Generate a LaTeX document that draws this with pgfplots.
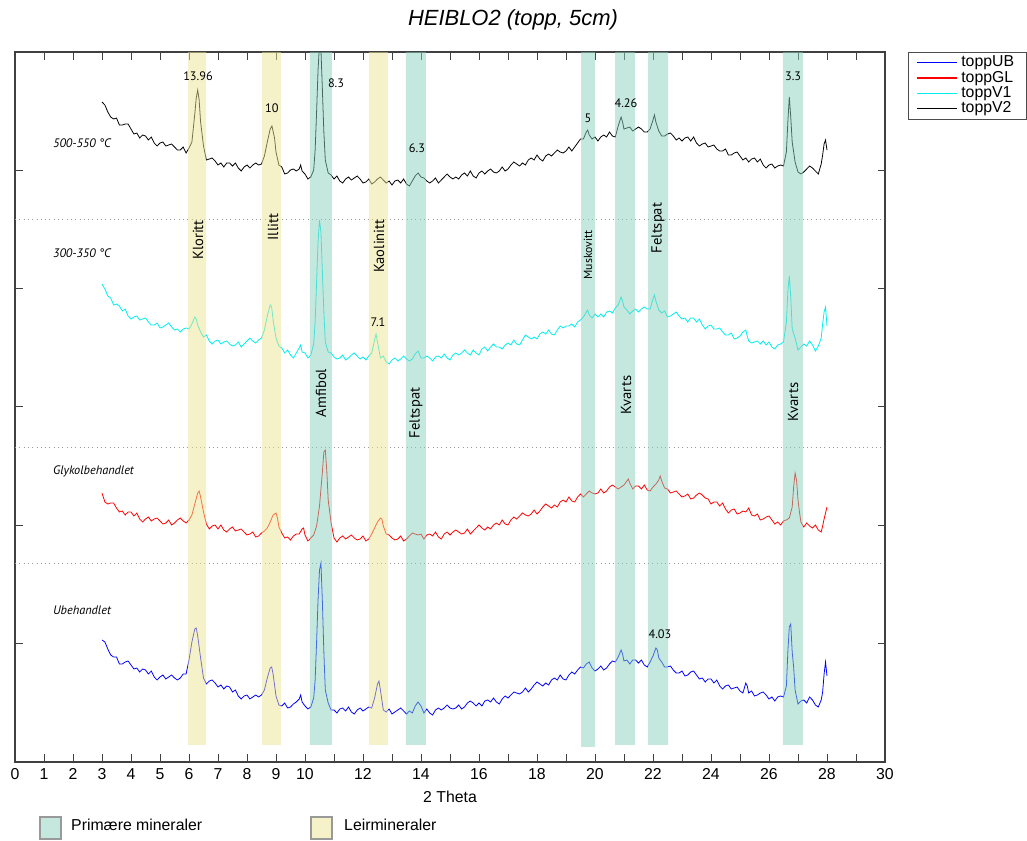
\documentclass[border=0pt]{standalone}
\usepackage{fontspec}
\setmainfont{Liberation Sans}
\newfontfamily\ann{PT Sans}
\usepackage{pgfplots}
\pgfplotsset{compat=1.18}

\definecolor{cyn}{RGB}{0,238,238}
\definecolor{grnband}{RGB}{137,209,189}
\definecolor{yelband}{RGB}{235,227,145}
\definecolor{grnpatch}{RGB}{196,232,222}
\definecolor{yelpatch}{RGB}{245,241,200}

\begin{document}
\begin{tikzpicture}
% one y unit = one pixel of the reference; the traces are stacked with offsets
\begin{axis}[
  at={(0.3cm,1.58cm)}, anchor=south west,
  width=17.4cm, height=14.2cm, scale only axis,
  xmin=0, xmax=30, ymin=0, ymax=710,
  xtick={0,...,30},
  xticklabels={0,1,2,3,4,5,6,7,8,9,10,{},12,{},14,{},16,{},18,{},20,{},22,{},24,{},26,{},28,{},30},
  ytick={119,237,356,474,592}, yticklabels={},
  tick align=inside, major tick length=0.15cm,
  tick style={black!75, line width=0.5pt},
  axis line style={black!75, line width=0.6pt},
  tick label style={font=\fontsize{9}{10}\selectfont},
  /pgf/number format/assume math mode=true,
  xlabel={2 Theta},
  xlabel style={font=\fontsize{9}{10}\selectfont},
  legend style={at={(1.026,1)}, anchor=north west, draw=black!70,
    font=\fontsize{9}{9}\selectfont, inner xsep=5pt, inner ysep=0pt, row sep=-3pt,
    cells={anchor=west}},
  legend image code/.code={\draw[#1, line width=0.6pt] (0cm,0cm) -- (0.8cm,0cm);},
  every axis plot/.append style={line width=0.45pt},
]

% toppUB
\addplot[blue] coordinates {
(3.0,122)(3.1,120)(3.2,113)(3.3,107)(3.4,105)(3.5,105)(3.6,98)(3.7,98)(3.8,100)(3.9,101)
(4.0,97)(4.1,93)(4.2,94)(4.3,90)(4.4,93)(4.5,92)(4.6,88)(4.7,91)(4.8,85)(4.9,82)
(5.0,85)(5.1,87)(5.2,83)(5.3,85)(5.4,87)(5.5,84)(5.6,82)(5.7,84)(5.8,88)(5.9,88)
(6.0,102)(6.1,120)(6.2,133)(6.25,134)(6.3,126)(6.4,104)(6.5,84)(6.6,78)(6.7,81)(6.8,82)(6.9,79)
(7.0,75)(7.1,77)(7.2,73)(7.3,76)(7.4,75)(7.5,70)(7.6,72)(7.7,66)(7.8,63)(7.9,66)
(8.0,67)(8.1,63)(8.2,65)(8.3,67)(8.4,65)(8.5,67)(8.6,72)(8.7,84)(8.8,94)(8.85,95)(8.9,88)
(9.0,66)(9.1,57)(9.2,56)(9.3,59)(9.4,54)(9.5,55)(9.6,58)(9.7,60)(9.8,63)(9.85,67)(9.9,60)
(10.0,56)(10.1,53)(10.2,55)(10.3,64)(10.35,82)(10.4,120)(10.45,162)(10.5,192)(10.55,199)(10.6,160)(10.65,110)(10.7,72)(10.8,59)(10.9,52)
(11.0,52)(11.1,49)(11.2,53)(11.3,54)(11.4,51)(11.5,55)(11.6,50)(11.7,48)(11.8,52)(11.9,54)
(12.0,51)(12.1,53)(12.2,55)(12.3,54)(12.4,64)(12.5,78)(12.55,81)(12.6,72)(12.7,52)(12.8,50)(12.9,53)
(13.0,48)(13.1,50)(13.2,52)(13.3,54)(13.4,51)(13.5,48)(13.6,51)(13.7,49)(13.8,56)(13.9,60)
(14.0,56)(14.1,49)(14.2,53)(14.3,49)(14.4,47)(14.5,52)(14.6,54)(14.7,52)(14.8,54)(14.9,57)
(15.0,54)(15.1,53)(15.2,54)(15.3,57)(15.4,53)(15.5,55)(15.6,59)(15.7,61)(15.8,59)(15.9,56)
(16.0,59)(16.1,56)(16.2,61)(16.3,62)(16.4,60)(16.5,64)(16.6,60)(16.7,58)(16.8,63)(16.9,66)
(17.0,64)(17.1,67)(17.2,70)(17.3,69)(17.4,68)(17.5,70)(17.6,74)(17.7,70)(17.8,73)(17.9,77)
(18.0,80)(18.1,78)(18.2,76)(18.3,79)(18.4,77)(18.5,82)(18.6,84)(18.7,82)(18.8,87)(18.9,83)
(19.0,82)(19.1,87)(19.2,90)(19.3,88)(19.4,92)(19.5,95)(19.6,94)(19.7,98)(19.8,100)(19.9,94)
(20.0,91)(20.1,93)(20.2,96)(20.3,92)(20.4,94)(20.5,98)(20.6,101)(20.7,100)(20.8,105)(20.9,112)(20.95,108)
(21.0,101)(21.1,102)(21.2,98)(21.3,102)(21.4,102)(21.5,99)(21.6,102)(21.7,97)(21.8,95)(21.9,100)
(22.0,106)(22.1,114)(22.15,112)(22.2,104)(22.3,100)(22.4,95)(22.5,95)(22.6,96)(22.7,92)(22.8,89)(22.9,89)
(23.0,91)(23.1,86)(23.2,87)(23.3,90)(23.4,91)(23.5,87)(23.6,83)(23.7,84)(23.8,80)(23.9,83)
(24.0,83)(24.1,79)(24.2,82)(24.3,76)(24.4,73)(24.5,76)(24.6,77)(24.7,73)(24.8,74)(24.9,75)
(25.0,71)(25.1,69)(25.2,79)(25.25,76)(25.3,69)(25.4,71)(25.5,66)(25.6,67)(25.7,69)(25.8,70)(25.9,67)
(26.0,63)(26.1,65)(26.2,61)(26.3,65)(26.4,66)(26.5,65)(26.6,76)(26.65,110)(26.7,135)(26.75,138)(26.8,110)(26.85,95)(26.9,72)
(27.0,58)(27.1,61)(27.2,62)(27.3,59)(27.4,65)(27.5,62)(27.6,57)(27.7,55)(27.8,62)(27.85,70)(27.9,88)(27.95,100)(28.0,86)
};
\addlegendentry{toppUB}

% toppGL
\addplot[red] coordinates {
(3.0,269)(3.1,260)(3.2,258)(3.3,259)(3.4,259)(3.5,254)(3.6,250)(3.7,251)(3.8,247)(3.9,250)
(4.0,250)(4.1,246)(4.2,249)(4.3,243)(4.4,240)(4.5,243)(4.6,245)(4.7,241)(4.8,243)(4.9,244)
(5.0,241)(5.1,238)(5.2,239)(5.3,242)(5.4,237)(5.5,239)(5.6,242)(5.7,244)(5.8,241)(5.9,239)
(6.0,242)(6.1,247)(6.2,258)(6.3,269)(6.35,271)(6.4,265)(6.5,250)(6.6,238)(6.7,233)(6.8,236)(6.9,237)
(7.0,233)(7.1,237)(7.2,232)(7.3,230)(7.4,233)(7.5,235)(7.6,231)(7.7,232)(7.8,233)(7.9,230)
(8.0,227)(8.1,228)(8.2,230)(8.3,225)(8.4,226)(8.5,229)(8.6,231)(8.7,234)(8.8,240)(8.9,247)
(9.0,249)(9.05,244)(9.1,235)(9.2,229)(9.3,224)(9.4,225)(9.5,222)(9.6,226)(9.7,228)(9.8,228)(9.9,233)(9.95,234)
(10.0,227)(10.1,221)(10.2,224)(10.3,227)(10.4,236)(10.5,256)(10.6,290)(10.65,310)(10.7,312)(10.75,292)(10.8,262)(10.9,239)
(11.0,224)(11.1,220)(11.2,224)(11.3,226)(11.4,223)(11.5,225)(11.6,227)(11.7,224)(11.8,222)(11.9,223)
(12.0,226)(12.1,221)(12.2,223)(12.3,228)(12.4,234)(12.5,240)(12.6,244)(12.65,243)(12.7,236)(12.8,228)(12.9,227)
(13.0,224)(13.1,222)(13.2,223)(13.3,226)(13.4,221)(13.5,223)(13.6,226)(13.7,229)(13.8,228)(13.9,227)
(14.0,228)(14.1,223)(14.2,227)(14.3,228)(14.4,226)(14.5,230)(14.6,225)(14.7,223)(14.8,228)(14.9,230)
(15.0,227)(15.1,230)(15.2,232)(15.3,230)(15.4,228)(15.5,229)(15.6,233)(15.7,228)(15.8,231)(15.9,234)
(16.0,237)(16.1,234)(16.2,232)(16.3,235)(16.4,233)(16.5,237)(16.6,239)(16.7,237)(16.8,242)(16.9,238)
(17.0,237)(17.1,242)(17.2,245)(17.3,243)(17.4,246)(17.5,249)(17.6,247)(17.7,246)(17.8,248)(17.9,252)
(18.0,248)(18.1,251)(18.2,255)(18.3,258)(18.4,256)(18.5,254)(18.6,257)(18.7,255)(18.8,260)(18.9,262)
(19.0,260)(19.1,265)(19.2,261)(19.3,260)(19.4,265)(19.5,268)(19.6,265)(19.7,268)(19.8,271)(19.9,269)
(20.0,268)(20.1,269)(20.2,273)(20.3,269)(20.4,271)(20.5,275)(20.6,277)(20.7,275)(20.8,273)(20.9,275)
(21.0,277)(21.1,281)(21.15,283)(21.2,279)(21.3,273)(21.4,276)(21.5,276)(21.6,273)(21.7,277)(21.8,272)(21.9,271)
(22.0,275)(22.1,278)(22.2,282)(22.25,286)(22.3,281)(22.4,274)(22.5,273)(22.6,269)(22.7,270)(22.8,271)(22.9,268)
(23.0,265)(23.1,266)(23.2,268)(23.3,263)(23.4,264)(23.5,267)(23.6,269)(23.7,267)(23.8,264)(23.9,263)
(24.0,258)(24.1,260)(24.2,260)(24.3,256)(24.4,259)(24.5,253)(24.6,249)(24.7,252)(24.8,253)(24.9,248)
(25.0,249)(25.1,251)(25.2,250)(25.3,254)(25.4,247)(25.5,246)(25.6,248)(25.7,242)(25.8,243)(25.9,245)
(26.0,246)(26.1,242)(26.2,238)(26.3,240)(26.4,237)(26.5,241)(26.6,242)(26.7,244)(26.8,255)(26.85,275)(26.9,289)(26.95,282)
(27.0,262)(27.05,250)(27.1,240)(27.2,235)(27.3,239)(27.4,236)(27.5,234)(27.6,237)(27.7,232)(27.8,230)(27.85,236)(27.9,243)(27.95,249)(28.0,255)
};
\addlegendentry{toppGL}

% toppV1
\addplot[cyn] coordinates {
(3.0,478)(3.1,473)(3.2,466)(3.3,464)(3.4,457)(3.5,458)(3.6,456)(3.7,451)(3.8,453)(3.9,446)
(4.0,443)(4.1,445)(4.2,446)(4.3,442)(4.4,443)(4.5,444)(4.6,440)(4.7,437)(4.8,437)(4.9,439)
(5.0,434)(5.1,435)(5.2,437)(5.3,439)(5.4,435)(5.5,432)(5.6,433)(5.7,430)(5.8,433)(5.9,434)
(6.0,433)(6.1,438)(6.2,445)(6.25,443)(6.3,437)(6.4,430)(6.5,425)(6.6,427)(6.7,421)(6.8,418)(6.9,421)
(7.0,422)(7.1,418)(7.2,420)(7.3,421)(7.4,418)(7.5,416)(7.6,417)(7.7,420)(7.8,415)(7.9,418)
(8.0,421)(8.1,424)(8.2,421)(8.3,419)(8.4,422)(8.5,424)(8.6,432)(8.7,446)(8.8,457)(8.85,455)(8.9,442)
(9.0,424)(9.1,416)(9.2,414)(9.3,409)(9.4,412)(9.5,407)(9.6,404)(9.7,409)(9.8,414)(9.85,417)(9.9,410)
(10.0,409)(10.1,404)(10.2,407)(10.3,418)(10.35,440)(10.4,480)(10.45,520)(10.5,542)(10.55,530)(10.6,490)(10.65,450)(10.7,420)(10.8,410)(10.9,409)
(11.0,405)(11.1,403)(11.2,404)(11.3,407)(11.4,402)(11.5,404)(11.6,407)(11.7,409)(11.8,406)(11.9,403)
(12.0,405)(12.1,402)(12.2,406)(12.3,409)(12.4,422)(12.45,428)(12.5,420)(12.6,404)(12.7,406)(12.8,400)(12.9,398)
(13.0,402)(13.1,404)(13.2,401)(13.3,403)(13.4,406)(13.5,403)(13.6,401)(13.7,403)(13.8,408)(13.9,411)
(14.0,404)(14.1,404)(14.2,406)(14.3,404)(14.4,401)(14.5,405)(14.6,406)(14.7,404)(14.8,408)(14.9,404)
(15.0,402)(15.1,407)(15.2,409)(15.3,407)(15.4,409)(15.5,412)(15.6,409)(15.7,407)(15.8,412)(15.9,409)
(16.0,407)(16.1,413)(16.2,415)(16.3,411)(16.4,415)(16.5,418)(16.6,415)(16.7,415)(16.8,413)(16.9,417)
(17.0,419)(17.1,417)(17.2,422)(17.3,418)(17.4,417)(17.5,422)(17.6,427)(17.7,425)(17.8,423)(17.9,425)
(18.0,423)(18.1,428)(18.2,430)(18.3,428)(18.4,432)(18.5,428)(18.6,427)(18.7,432)(18.8,436)(18.9,434)
(19.0,436)(19.1,436)(19.2,438)(19.3,435)(19.4,440)(19.5,442)(19.6,445)(19.7,450)(19.75,452)(19.8,447)(19.9,444)
(20.0,448)(20.1,445)(20.2,448)(20.3,445)(20.4,450)(20.5,451)(20.6,449)(20.7,454)(20.8,457)(20.9,465)(20.95,461)
(21.0,455)(21.1,452)(21.2,448)(21.3,451)(21.4,453)(21.5,450)(21.6,453)(21.7,455)(21.8,453)(21.9,453)
(22.0,463)(22.05,467)(22.1,461)(22.2,452)(22.3,449)(22.4,451)(22.5,445)(22.6,446)(22.7,448)(22.8,450)(22.9,446)
(23.0,443)(23.1,444)(23.2,440)(23.3,444)(23.4,444)(23.5,440)(23.6,443)(23.7,437)(23.8,433)(23.9,436)
(24.0,437)(24.1,433)(24.2,433)(24.3,434)(24.4,430)(24.5,427)(24.6,427)(24.7,429)(24.8,423)(24.9,424)
(25.0,426)(25.1,430)(25.2,432)(25.25,426)(25.3,421)(25.4,419)(25.5,420)(25.6,421)(25.7,418)(25.8,421)(25.9,417)
(26.0,420)(26.1,415)(26.2,413)(26.3,417)(26.4,418)(26.5,420)(26.6,440)(26.65,470)(26.7,486)(26.75,465)(26.8,433)(26.9,424)
(27.0,412)(27.1,415)(27.2,418)(27.3,416)(27.4,421)(27.5,417)(27.6,411)(27.7,416)(27.8,424)(27.85,438)(27.9,450)(27.95,455)(28.0,436)
};
\addlegendentry{toppV1}

% toppV2
\addplot[black] coordinates {
(3.0,660)(3.1,657)(3.2,650)(3.3,645)(3.4,643)(3.5,644)(3.6,637)(3.7,637)(3.8,638)(3.9,638)
(4.0,633)(4.1,628)(4.2,629)(4.3,624)(4.4,627)(4.5,626)(4.6,622)(4.7,625)(4.8,619)(4.9,616)
(5.0,619)(5.1,620)(5.2,616)(5.3,617)(5.4,618)(5.5,615)(5.6,612)(5.7,612)(5.8,615)(5.9,609)
(6.0,614)(6.1,620)(6.2,648)(6.25,664)(6.3,672)(6.35,662)(6.4,640)(6.5,616)(6.6,602)(6.7,603)(6.8,604)(6.9,601)
(7.0,597)(7.1,599)(7.2,595)(7.3,599)(7.4,599)(7.5,596)(7.6,599)(7.7,594)(7.8,591)(7.9,595)
(8.0,597)(8.1,594)(8.2,597)(8.3,599)(8.4,597)(8.5,598)(8.6,606)(8.7,620)(8.8,633)(8.86,636)(8.95,624)
(9.0,610)(9.1,597)(9.2,595)(9.3,588)(9.4,589)(9.5,592)(9.6,593)(9.7,591)(9.8,593)(9.85,597)(9.9,591)
(10.0,588)(10.1,583)(10.2,585)(10.3,592)(10.35,612)(10.4,650)(10.45,692)(10.5,718)(10.55,712)(10.6,672)(10.65,630)(10.7,602)(10.8,589)(10.9,587)
(11.0,583)(11.1,586)(11.2,581)(11.3,579)(11.4,583)(11.5,585)(11.6,582)(11.7,584)(11.8,586)(11.9,583)
(12.0,579)(12.1,580)(12.2,583)(12.3,578)(12.4,580)(12.5,583)(12.6,585)(12.7,582)(12.8,579)(12.9,581)
(13.0,577)(13.1,581)(13.2,582)(13.3,579)(13.4,583)(13.5,578)(13.6,576)(13.7,581)(13.8,586)(13.9,589)
(14.0,585)(14.1,584)(14.2,581)(14.3,579)(14.4,581)(14.5,584)(14.6,579)(14.7,582)(14.8,585)(14.9,588)
(15.0,585)(15.1,583)(15.2,585)(15.3,583)(15.4,587)(15.5,589)(15.6,586)(15.7,591)(15.8,586)(15.9,584)
(16.0,589)(16.1,591)(16.2,588)(16.3,591)(16.4,593)(16.5,590)(16.6,589)(16.7,591)(16.8,595)(16.9,591)
(17.0,593)(17.1,597)(17.2,600)(17.3,598)(17.4,596)(17.5,599)(17.6,597)(17.7,602)(17.8,604)(17.9,602)
(18.0,607)(18.1,603)(18.2,601)(18.3,606)(18.4,608)(18.5,606)(18.6,609)(18.7,612)(18.8,610)(18.9,609)
(19.0,611)(19.1,615)(19.2,611)(19.3,615)(19.4,619)(19.5,623)(19.6,623)(19.7,630)(19.75,632)(19.8,627)(19.9,623)
(20.0,625)(20.1,621)(20.2,625)(20.3,627)(20.4,625)(20.5,630)(20.6,626)(20.7,625)(20.8,636)(20.9,645)(20.95,640)
(21.0,633)(21.1,634)(21.2,635)(21.3,631)(21.4,633)(21.5,635)(21.6,633)(21.7,630)(21.8,630)(21.9,633)
(22.0,642)(22.05,647)(22.1,640)(22.2,631)(22.3,626)(22.4,626)(22.5,628)(22.6,629)(22.7,626)(22.8,622)(22.9,624)
(23.0,621)(23.1,624)(23.2,625)(23.3,621)(23.4,625)(23.5,619)(23.6,616)(23.7,618)(23.8,619)(23.9,615)
(24.0,616)(24.1,617)(24.2,613)(24.3,611)(24.4,611)(24.5,613)(24.6,607)(24.7,607)(24.8,609)(24.9,610)
(25.0,606)(25.1,602)(25.2,604)(25.3,600)(25.4,603)(25.5,604)(25.6,600)(25.7,603)(25.8,597)(25.9,594)
(26.0,597)(26.1,598)(26.2,594)(26.3,596)(26.4,597)(26.5,596)(26.6,610)(26.65,640)(26.7,665)(26.75,645)(26.8,620)(26.9,600)
(27.0,590)(27.1,588)(27.2,590)(27.3,593)(27.4,596)(27.5,594)(27.6,591)(27.7,588)(27.8,598)(27.85,607)(27.9,618)(27.95,622)(28.0,612)
};
\addlegendentry{toppV2}

% separators between the four samples
\addplot[forget plot, black!40, dotted] coordinates {(0,543)(30,543)};
\addplot[forget plot, black!40, dotted] coordinates {(0,315)(30,315)};
\addplot[forget plot, black!40, dotted] coordinates {(0,199)(30,199)};

% mineral bands (clay = yellow, primary = green), laid over the traces
\addplot[forget plot, draw=none, fill=yelband, fill opacity=0.5] coordinates {(5.97,17)(6.59,17)(6.59,710)(5.97,710)(5.97,17)};
\addplot[forget plot, draw=none, fill=yelband, fill opacity=0.5] coordinates {(8.52,17)(9.17,17)(9.17,710)(8.52,710)(8.52,17)};
\addplot[forget plot, draw=none, fill=grnband, fill opacity=0.5] coordinates {(10.17,17)(10.93,17)(10.93,710)(10.17,710)(10.17,17)};
\addplot[forget plot, draw=none, fill=yelband, fill opacity=0.5] coordinates {(12.2,17)(12.86,17)(12.86,710)(12.2,710)(12.2,17)};
\addplot[forget plot, draw=none, fill=grnband, fill opacity=0.5] coordinates {(13.48,17)(14.17,17)(14.17,710)(13.48,710)(13.48,17)};
\addplot[forget plot, draw=none, fill=grnband, fill opacity=0.5] coordinates {(19.52,15)(20.0,15)(20.0,710)(19.52,710)(19.52,15)};
\addplot[forget plot, draw=none, fill=grnband, fill opacity=0.5] coordinates {(20.69,17)(21.38,17)(21.38,710)(20.69,710)(20.69,17)};
\addplot[forget plot, draw=none, fill=grnband, fill opacity=0.5] coordinates {(21.83,17)(22.52,17)(22.52,710)(21.83,710)(21.83,17)};
\addplot[forget plot, draw=none, fill=grnband, fill opacity=0.5] coordinates {(26.48,17)(27.17,17)(27.17,710)(26.48,710)(26.48,17)};

% sample labels
\begin{scope}[every node/.style={anchor=west, font=\ann\itshape\fontsize{7}{8}\selectfont}]
\node at (axis cs:1.1,619) {500-550 °C};
\node at (axis cs:1.1,509) {300-350 °C};
\node at (axis cs:1.1,291) {Glykolbehandlet};
\node at (axis cs:1.1,152) {Ubehandlet};
\end{scope}

% d-spacings
\begin{scope}[every node/.style={font=\ann\fontsize{7}{8}\selectfont}]
\node at (axis cs:6.31,686) {13.96};
\node at (axis cs:8.86,654) {10};
\node at (axis cs:11.07,679) {8.3};
\node at (axis cs:13.86,614) {6.3};
\node at (axis cs:19.76,644) {5};
\node at (axis cs:21.07,659) {4.26};
\node at (axis cs:26.83,686) {3.3};
\node at (axis cs:12.52,440) {7.1};
\node at (axis cs:22.24,128) {4.03};
\end{scope}

% mineral names
\begin{scope}[every node/.style={rotate=90, font=\ann\fontsize{8.3}{9}\selectfont}]
\node at (axis cs:6.31,522) {Kloritt};
\node at (axis cs:8.9,535) {Illitt};
\node at (axis cs:10.55,369) {Amfibol};
\node at (axis cs:12.55,516) {Kaolinitt};
\node at (axis cs:13.83,349) {Feltspat};
\node[font=\ann\fontsize{6.7}{8}\selectfont] at (axis cs:19.76,507) {Muskovitt};
\node at (axis cs:21.07,367) {Kvarts};
\node at (axis cs:22.17,534) {Feltspat};
\node at (axis cs:26.83,360) {Kvarts};
\end{scope}
\end{axis}

\node[font=\itshape\fontsize{12.5}{14}\selectfont] at (10.26cm,16.42cm) {HEIBLO2 (topp, 5cm)};

\draw[black!40, line width=0.8pt, fill=grnpatch] (0.80cm,0.04cm) rectangle (1.22cm,0.48cm);
\node[anchor=west, font=\fontsize{9}{10}\selectfont] at (1.30cm,0.32cm) {Primære mineraler};
\draw[black!40, line width=0.8pt, fill=yelpatch] (6.22cm,0.04cm) rectangle (6.64cm,0.48cm);
\node[anchor=west, font=\fontsize{9}{10}\selectfont] at (6.76cm,0.32cm) {Leirmineraler};

\pgfresetboundingbox
\path[use as bounding box] (0,0) rectangle (20.54cm,16.82cm);
\end{tikzpicture}
\end{document}
